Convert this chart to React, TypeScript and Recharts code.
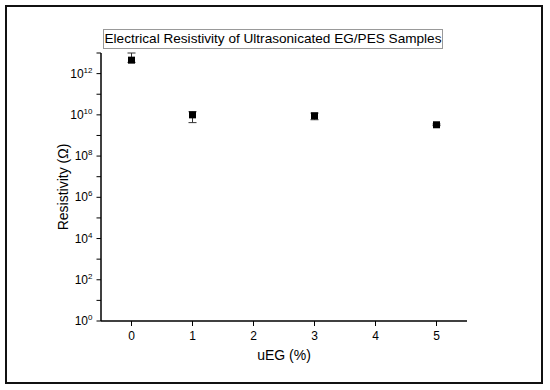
import React from "react";
import { ErrorBar, Scatter, ScatterChart, XAxis, YAxis } from "recharts";

const uegPercent = [0, 1, 3, 5];
const resistivity = [4.5e12, 1.0e10, 9.0e9, 3.3e9];
const errLow = [1.0e12, 5.8e9, 3.2e9, 3.0e8];
const errHigh = [5.5e12, 4.2e9, 3.2e9, 3.0e8];

const xMajorTicks = [0, 1, 2, 3, 4, 5];
const xMinorTicks = [-0.5, 0.5, 1.5, 2.5, 3.5, 4.5, 5.5];
const decades = [0, 1, 2, 3, 4, 5, 6, 7, 8, 9, 10, 11, 12, 13];
const labelledDecades = [0, 2, 4, 6, 8, 10, 12];

const yMajorTicks = decades.map((d) => Math.pow(10, d));
const yMinorTicks: number[] = [];
decades.forEach((d) => {
  if (d < 13) for (let m = 2; m <= 9; m++) yMinorTicks.push(m * Math.pow(10, d));
});

const data = uegPercent.map((x, i) => ({
  x,
  y: resistivity[i],
  err: [errLow[i], errHigh[i]],
}));

const FONT = "'Liberation Sans', Arial, sans-serif";

const XTick = (props: any) => {
  const { x, y, payload } = props;
  return (
    <text x={x} y={y + 14} textAnchor="middle" fontSize={12} fontFamily={FONT} fill="#000">
      {payload.value}
    </text>
  );
};

const YTick = (props: any) => {
  const { x, y, payload } = props;
  const e = Math.round(Math.log10(payload.value));
  if (!labelledDecades.includes(e)) return <g />;
  return (
    <text x={x - 4} y={y + 4} textAnchor="end" fontSize={12} fontFamily={FONT} fill="#000">
      10
      <tspan fontSize={8} dy={-5}>
        {e}
      </tspan>
    </text>
  );
};

const axisLine = { stroke: "#000", strokeWidth: 1.5 };
const tickLine = { stroke: "#000", strokeWidth: 1 };

export default function App() {
  return (
    <div style={{ position: "absolute", left: 0, top: 0, width: 550, height: 390, background: "#fff" }}>
      <div
        style={{
          position: "absolute",
          left: 5,
          top: 5,
          width: 534,
          height: 375,
          border: "2px solid #111",
        }}
      />
      <ScatterChart width={550} height={390} margin={{ top: 53, right: 83, bottom: 1, left: 25 }}>
        <XAxis
          xAxisId="minor"
          type="number"
          dataKey="x"
          domain={[-0.5, 5.5]}
          ticks={xMinorTicks}
          interval={0}
          tick={false}
          tickLine={tickLine}
          tickSize={3}
          height={0}
          axisLine={axisLine}
        />
        <XAxis
          xAxisId="main"
          type="number"
          dataKey="x"
          domain={[-0.5, 5.5]}
          ticks={xMajorTicks}
          interval={0}
          tick={(p: any) => <XTick {...p} />}
          tickLine={tickLine}
          tickSize={5}
          tickMargin={0}
          height={68}
          axisLine={axisLine}
          label={{ value: "uEG (%)", position: "center", fontSize: 14, fontFamily: FONT, fill: "#000" }}
        />
        <YAxis
          yAxisId="minor"
          type="number"
          dataKey="y"
          scale="log"
          domain={[1, 1e13]}
          allowDataOverflow
          ticks={yMinorTicks}
          interval={0}
          tick={false}
          tickLine={tickLine}
          tickSize={2.5}
          width={0}
          axisLine={axisLine}
        />
        <YAxis
          yAxisId="main"
          type="number"
          dataKey="y"
          scale="log"
          domain={[1, 1e13]}
          allowDataOverflow
          ticks={yMajorTicks}
          interval={0}
          tick={(p: any) => <YTick {...p} />}
          tickLine={tickLine}
          tickSize={4.5}
          tickMargin={0}
          width={76}
          axisLine={axisLine}
          label={{
            value: "Resistivity (Ω)",
            angle: -90,
            position: "center",
            fontSize: 14,
            fontFamily: FONT,
            fill: "#000",
          }}
        />
        <Scatter
          data={data}
          xAxisId="main"
          yAxisId="main"
          isAnimationActive={false}
          shape={(p: any) => <rect x={p.cx - 3.5} y={p.cy - 3.5} width={7} height={7} fill="#000" />}
        >
          <ErrorBar dataKey="err" direction="y" width={4} stroke="#333" strokeWidth={1} isAnimationActive={false} />
        </Scatter>
      </ScatterChart>
      <div
        style={{
          position: "absolute",
          left: 103,
          top: 29,
          width: 338,
          height: 18,
          border: "1px solid #999",
          background: "#fff",
          fontFamily: FONT,
          fontSize: 13.6,
          lineHeight: "18px",
          textAlign: "center",
          color: "#000",
          whiteSpace: "nowrap",
        }}
      >
        Electrical Resistivity of Ultrasonicated EG/PES Samples
      </div>
    </div>
  );
}
